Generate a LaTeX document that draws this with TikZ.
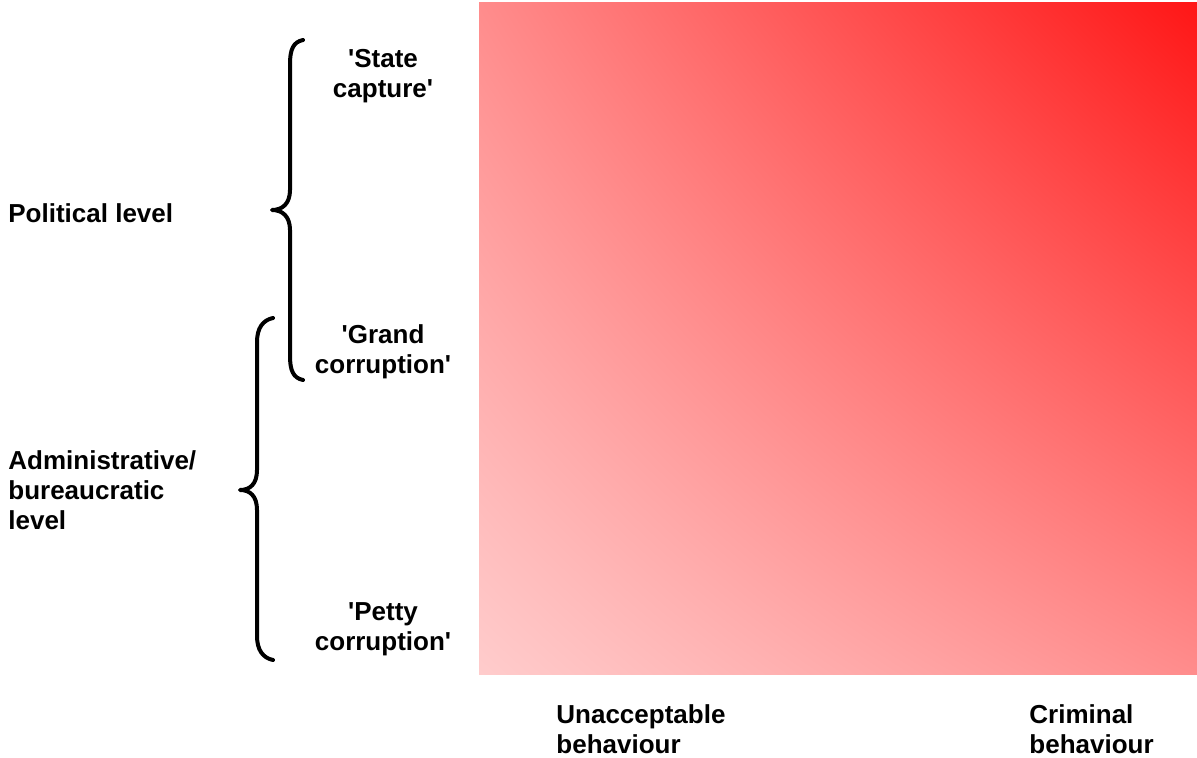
\documentclass[tikz,border=0pt]{standalone}
\usepackage{fontspec}
\setmainfont{Liberation Sans}[Ligatures=TeXOff]
\usetikzlibrary{shadings}
\definecolor{cUL}{RGB}{255,140,140}
\definecolor{cUR}{RGB}{255,22,22}
\definecolor{cLL}{RGB}{255,204,204}
\definecolor{cLR}{RGB}{255,140,140}
\begin{document}
\begin{tikzpicture}[x=0.5pt,y=-0.5pt,
  lbl/.style={font=\fontsize{13}{15}\selectfont\bfseries, inner sep=0pt, align=left},
  clbl/.style={font=\fontsize{13}{15}\selectfont\bfseries, inner sep=0pt, align=center},
  bracepath/.style={line width=2pt, line cap=round, line join=round}]
\useasboundingbox (0,0) rectangle (1197,758);
\shade[upper left=cUL, upper right=cUR, lower left=cLL, lower right=cLR] (479,3) rectangle (1197,674);
% braces
\draw[bracepath] (303,40) .. controls (293,42) and (290,50) .. (290,64) -- (290,190) .. controls (290,204) and (282,210) .. (272,210) .. controls (282,210) and (290,216) .. (290,230) -- (290,356) .. controls (290,370) and (293,378) .. (303,380);
\draw[bracepath] (273,318) .. controls (263,320) and (257,328) .. (257,342) -- (257,470) .. controls (257,484) and (250,490) .. (240,490) .. controls (250,490) and (257,496) .. (257,510) -- (257,636) .. controls (257,650) and (263,658) .. (273,660);
% labels
\node[lbl, anchor=west] (pol) at (8,213) {Political level};
\node[lbl, anchor=west] (adm) at (8,490) {Administrative/\\bureaucratic\\level};
\node[clbl] (sc) at (383,76) {'State\\capture'};
\node[clbl] (gc) at (383,352) {'Grand\\corruption'};
\node[clbl] (pc) at (383,629) {'Petty\\corruption'};
\node[lbl, anchor=west] (ub) at (556,729) {Unacceptable\\behaviour};
\node[lbl, anchor=west] (cb) at (1029,729) {Criminal\\behaviour};
\end{tikzpicture}
\end{document}
